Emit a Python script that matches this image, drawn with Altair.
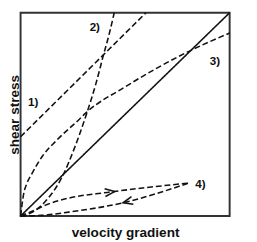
import altair as alt
import pandas as pd

# straight Newtonian line
solid_x = [0, 100]
solid_y = [0, 100]
# 1) Bingham plastic
l1_x = [0, 60]
l1_y = [39, 100]
# 2) shear thickening
l2_x = [0, 5, 11.5, 20, 26, 31, 36, 39.6, 42.5, 44.8]
l2_y = [0, 1.5, 6.8, 19.5, 34, 48.5, 65, 79, 90, 100]
# 3) shear thinning
l3_x = [0, 1.5, 3, 5.5, 10.5, 17, 28, 31, 50, 80.5, 100]
l3_y = [0, 11, 16, 21, 29.5, 37, 47.5, 50.5, 63.5, 81, 90]
# 4) thixotropic loop
l4u_x = [0, 7, 13, 23, 41.5, 80.5]
l4u_y = [0, 3, 5.8, 8.8, 11.6, 16.2]
l4d_x = [0, 10, 23, 49, 80.5]
l4d_y = [0, 0.3, 1.9, 6.5, 16.2]
# arrowheads on the loop
arr_x = [45, 49]
arr_y = [12, 6.5]
arr_angle = [354, 166]
# labels
lab = ["1)", "2)", "3)", "4)"]
lab_x = [6, 35.5, 93, 86]
lab_y = [56, 93, 76.4, 15.7]

FONT = "Liberation Sans"
xs = alt.Scale(domain=[0, 100], nice=False, zero=False)
ys = alt.Scale(domain=[0, 100], nice=False, zero=False)

x_axis = alt.Axis(title="velocity gradient", labels=False, ticks=False, domain=False,
                  grid=False, titleFont=FONT, titleFontSize=14, titleFontWeight="bold",
                  titleColor="#111", titlePadding=10)
y_axis = alt.Axis(title="shear stress", labels=False, ticks=False, domain=False,
                  grid=False, titleFont=FONT, titleFontSize=14, titleFontWeight="bold",
                  titleColor="#111", titlePadding=2, titleBaseline="alphabetic")

X = alt.X("x:Q", scale=xs, axis=x_axis)
Y = alt.Y("y:Q", scale=ys, axis=y_axis)


def line(xv, yv, dashed=True):
    df = pd.DataFrame({"x": xv, "y": yv})
    m = alt.Chart(df).mark_line(
        color="#111", strokeWidth=1.6, interpolate="monotone",
        strokeDash=[6, 3] if dashed else [1, 0])
    return m.encode(x=X, y=Y, order="x:Q")


layers = [line(solid_x, solid_y, dashed=False),
          line(l1_x, l1_y),
          line(l2_x, l2_y),
          line(l3_x, l3_y),
          line(l4u_x, l4u_y),
          line(l4d_x, l4d_y)]

arr_df = pd.DataFrame({"x": arr_x, "y": arr_y, "a": arr_angle})
arrows = alt.Chart(arr_df).mark_point(
    shape="M-2,-0.8L0,0L-2,0.8", size=100, filled=False,
    stroke="#111", strokeWidth=1.6, opacity=1).encode(
    x=X, y=Y, angle=alt.Angle("a:Q", scale=None))

lab_df = pd.DataFrame({"t": lab, "x": lab_x, "y": lab_y})
labels = alt.Chart(lab_df).mark_text(
    font=FONT, fontSize=12, fontWeight="bold", color="#111",
    align="center", baseline="middle").encode(x=X, y=Y, text="t:N")

chart = alt.layer(*layers, arrows, labels).properties(
    width=216, height=210,
    background="white",
    autosize=alt.AutoSizeParams(type="none"),
    padding={"left": 13, "top": 1, "right": 20, "bottom": 23},
).configure_view(stroke="#333", strokeWidth=2)

chart.save("out.html", embed_options={"renderer": "svg", "actions": False})
